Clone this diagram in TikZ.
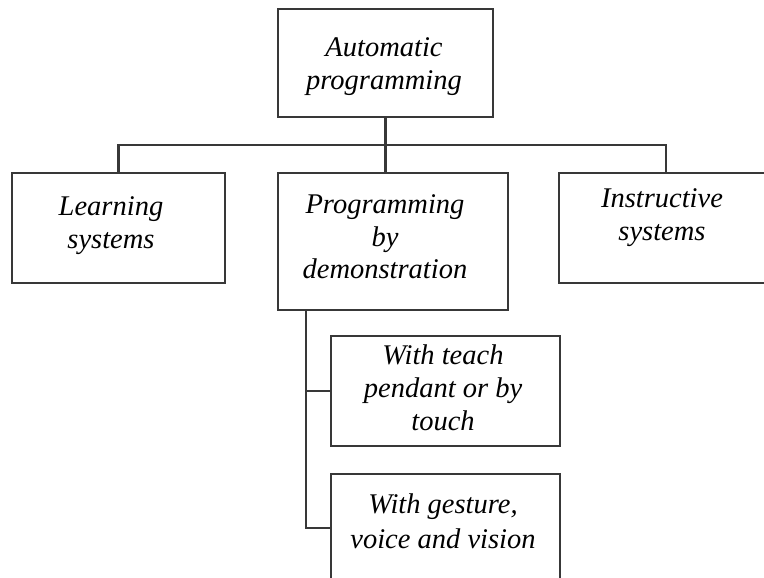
\documentclass[tikz,border=0pt]{standalone}
\usepackage{fontspec}
\setmainfont{Liberation Serif}
\newcommand\boxtext[1]{\begin{tabular}[t]{@{}c@{}}#1\end{tabular}}
\begin{document}
\begin{tikzpicture}[x=1pt,y=-1pt,
  box/.style={draw=black!78, line width=2.8pt, rectangle, inner sep=0pt},
  conn/.style={draw=black!78, line width=2.8pt},
  lbl/.style={anchor=base, inner sep=0pt, font=\fontsize{28.5}{33}\selectfont\itshape}]
\useasboundingbox (0,0) rectangle (764,578);
\clip (0,0) rectangle (764,578);

% boxes
\node[box, minimum width=215pt, minimum height=108pt] (top)   at (385.5,63)  {};
\node[box, minimum width=213pt, minimum height=110pt] (learn) at (118.5,228) {};
\node[box, minimum width=230pt, minimum height=137pt] (pbd)   at (393,241.5) {};
\node[box, minimum width=214pt, minimum height=110pt] (instr) at (666,228)   {};
\node[box, minimum width=229pt, minimum height=110pt] (teach) at (445.5,391) {};
\node[box, minimum width=229pt, minimum height=108pt] (gest)  at (445.5,528) {};

% labels (first baseline at the given point)
\node[lbl] (tTop)   at (384,57)  {\boxtext{Automatic\\programming}};
\node[lbl] (tLearn) at (111,215) {\boxtext{Learning\\systems}};
\node[lbl] (tPbd)   at (385,213) {\boxtext{Programming\\by\\demonstration}};
\node[lbl] (tInstr) at (662,207) {\boxtext{Instructive\\systems}};
\node[lbl] (tTeach) at (443,364) {\boxtext{With teach\\pendant or by\\touch}};
\node[lbl] (tGest)  at (443,513) {\boxtext{With gesture,\\[2pt]voice and vision}};

% tree connectors
\coordinate (bus) at (top.south |- 0,145);
\draw[conn] (top.south) -- (bus);
\draw[conn] (learn.north) |- (bus) -| (instr.north);
\draw[conn] (bus) -- (bus |- pbd.north);
\coordinate (spine) at (306,0 |- pbd.south);
\draw[conn] (spine) |- (gest.west);
\draw[conn] (teach.west) -- (teach.west -| spine);
\end{tikzpicture}
\end{document}
